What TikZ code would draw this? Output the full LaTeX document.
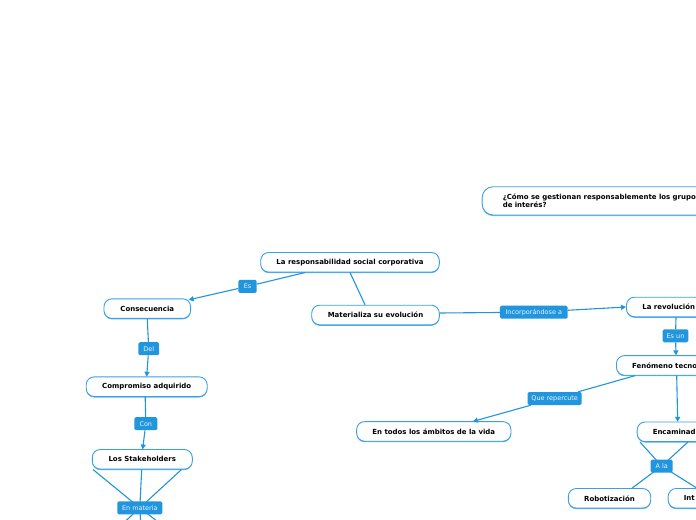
\documentclass[tikz,border=0pt]{standalone}
\usepackage{fontspec}
\setmainfont{DejaVu Sans}
\usetikzlibrary{arrows.meta,calc,shadows}
\definecolor{boxline}{RGB}{58,160,230}
\definecolor{conn}{RGB}{33,149,220}
\definecolor{lblfill}{RGB}{33,150,222}
\definecolor{lbltext}{RGB}{235,245,255}
\tikzset{
  box/.style={draw=boxline, line width=0.9bp, fill=white, rounded corners=8bp,
    minimum height=19.6bp, inner sep=0bp,
    font=\fontsize{7}{8}\selectfont\bfseries, text=black,
    drop shadow={shadow xshift=0bp, shadow yshift=-1bp, fill=boxline, opacity=0.8}},
  lbl/.style={fill=lblfill, rounded corners=1.5bp, inner xsep=0bp, inner ysep=0bp,
    minimum height=13bp, font=\fontsize{6.5}{7}\selectfont, text=lbltext},
  link/.style={draw=conn, line width=1.1bp},
  arr/.style={link, -{Triangle[length=5bp,width=5bp]}}
}
\begin{document}
\begin{tikzpicture}[x=1bp,y=-1bp]
\useasboundingbox (0,0) rectangle (696,520);
\clip (0,0) rectangle (696,520);
\fill[white] (0,0) rectangle (696,520);

% concept boxes
\node[box, minimum width=178.6bp] (rsc) at (350,262.3) {La responsabilidad social corporativa};
\node[box, minimum width=127.6bp] (mat) at (375.5,315) {Materializa su evolución};
\node[box, minimum width=86.7bp] (cons) at (147.3,308.6) {Consecuencia};
\node[box, minimum width=121bp] (comp) at (146.7,386.7) {Compromiso adquirido};
\node[box, minimum width=100bp] (stk) at (142.3,459.3) {Los Stakeholders};
\node[box, minimum width=154.3bp] (todos) at (433.8,431.4) {En todos los ámbitos de la vida};
\node[box, minimum width=82.4bp] (robo) at (609.5,498.3) {Robotización};
\node[box, anchor=west, text width=108bp, align=left, inner xsep=16bp] (rev) at (626,307) {La revolución};
\node[box, anchor=west, text width=108bp, align=left, inner xsep=15.7bp] (fen) at (616,365.4) {Fenómeno tecno};
\node[box, anchor=west, text width=108bp, align=left, inner xsep=15.6bp] (enc) at (636.7,431.8) {Encaminad};
\node[box, anchor=west, text width=60bp, align=left, inner xsep=15.6bp] (int) at (667.7,498.3) {Int};
\node[box, anchor=west, text width=230bp, align=left, inner xsep=20.6bp, minimum height=28.3bp,
      rounded corners=11bp, font=\fontsize{7}{7.8}\selectfont\bfseries] (q) at (481.7,200.9)
      {¿Cómo se gestionan responsablemente los grupos\\de interés?};

% connector labels
\node[lbl, minimum width=18.4bp] (es) at (247.5,286.4) {Es};
\node[lbl, minimum width=20.7bp] (del) at (148.7,348.7) {Del};
\node[lbl, minimum width=23bp] (con) at (145.8,423.7) {Con};
\node[lbl, minimum width=67.7bp] (inc) at (533.8,312.2) {Incorporándose a};
\node[lbl, minimum width=25.6bp] (esun) at (675.5,335.8) {Es un};
\node[lbl, minimum width=54bp] (que) at (554.7,398.5) {Que repercute};
\coordinate (enmc) at (139.8,507.9);
\coordinate (alac) at (661.7,466);

% connectors
\draw[link] ($(rsc.south)+(-45,0)$) -- (es);
\draw[arr] (es) -- ($(cons.north east)+(-2.5,1.5)$);
\draw[link] (rsc.south) -- ($(mat.north)+(-10.5,0)$);
\draw[link] ($(mat.east)+(0,-2)$) -- (inc);
\draw[arr] (inc) -- (rev.west);
\draw[link] (cons.south) -- (del);
\draw[arr] (del) -- ($(comp.north)+(0,0.3)$);
\draw[link] ($(comp.south)+(-1.5,0)$) -- (con);
\draw[arr] (con) -- ($(stk.north)+(0.3,0.5)$);
\draw[link] ($(stk.south west)+(1.2,0)$) -- (enmc);
\draw[link] ($(stk.south)+(-0.6,0)$) -- (enmc);
\draw[link] ($(stk.south east)+(-11.3,0)$) -- (enmc);
\draw[link] (enmc) -- (118,528);
\draw[link] (enmc) -- (141,528);
\draw[link] (enmc) -- (166,528);
\draw[link] ($(rev.south west)+(50,0)$) -- (esun);
\draw[arr] (esun) -- ($(fen.north west)+(60,0.3)$);
\draw[link] ($(fen.south west)+(19,0)$) -- (que);
\draw[arr] (que) -- ($(todos.north)+(39,0.3)$);
\draw[arr] ($(fen.south west)+(60.7,0)$) -- ($(enc.north west)+(41,0.3)$);
\draw[link] ($(enc.south west)+(3.3,0)$) -- (alac);
\draw[link] ($(enc.south west)+(51.3,0)$) -- (alac);
\draw[link] (alac) -- ($(robo.north east)+(-19,0)$);
\draw[link] (alac) -- ($(int.north west)+(29,0)$);

% labels drawn over the fan lines
\node[lbl, minimum width=45bp] (enm) at (enmc) {En materia};
\node[lbl, minimum width=22bp] (ala) at (alac) {A la};
\end{tikzpicture}
\end{document}
